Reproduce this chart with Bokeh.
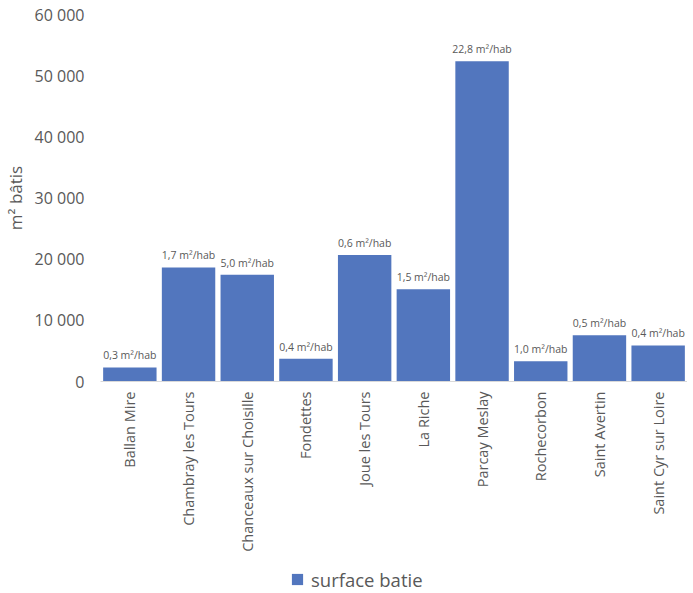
from bokeh.plotting import figure
from bokeh.models import ColumnDataSource, FixedTicker, Legend, LegendItem
from bokeh.layouts import column
from bokeh.embed import file_html
from bokeh.resources import INLINE
from bokeh.core.properties import value
import math

communes = ["Ballan Mire", "Chambray les Tours", "Chanceaux sur Choisille", "Fondettes",
            "Joue les Tours", "La Riche", "Parcay Meslay", "Rochecorbon",
            "Saint Avertin", "Saint Cyr sur Loire"]
surface = [2300, 18650, 17450, 3700, 20700, 15100, 52350, 3300, 7550, 5900]
ratio_labels = ["0,3 m²/hab", "1,7 m²/hab", "5,0 m²/hab", "0,4 m²/hab", "0,6 m²/hab",
                "1,5 m²/hab", "22,8 m²/hab", "1,0 m²/hab", "0,5 m²/hab", "0,4 m²/hab"]
y_ticks = [0, 10000, 20000, 30000, 40000, 50000, 60000]
y_tick_labels = ["0", "10 000", "20 000", "30 000", "40 000", "50 000", "60 000"]
series_name = "surface batie"

FONT = "Open Sans"
GREY = "#595959"
BLUE = "#5276BE"

src = ColumnDataSource(dict(x=communes, y=surface, lab=ratio_labels))

p = figure(x_range=communes, y_range=(0, 60000), frame_width=587, frame_height=367,
           output_backend="svg", toolbar_location=None,
           min_border_left=90, min_border_right=0, min_border_top=14, min_border_bottom=170)
p.outline_line_color = None
p.xgrid.grid_line_color = None
p.ygrid.grid_line_color = None
p.x_range.range_padding = 0

r = p.vbar(x="x", top="y", width=0.91, source=src, fill_color=BLUE, line_color=None)
p.text(x="x", y="y", text="lab", source=src, text_align="center", text_baseline="bottom",
       y_offset=-5, text_font=value(FONT), text_font_size="10.5px", text_color=GREY)

p.yaxis.ticker = FixedTicker(ticks=y_ticks)
p.yaxis.major_label_overrides = {t: l for t, l in zip(y_ticks, y_tick_labels)}
p.yaxis.axis_line_color = None
p.yaxis.major_tick_line_color = None
p.yaxis.minor_tick_line_color = None
p.yaxis.major_tick_out = 0
p.yaxis.major_label_text_font = FONT
p.yaxis.major_label_text_font_size = "16px"
p.yaxis.major_label_text_color = GREY
p.yaxis.major_label_standoff = 16
p.yaxis.axis_label = "m² bâtis"
p.yaxis.axis_label_text_font = FONT
p.yaxis.axis_label_text_font_size = "17px"
p.yaxis.axis_label_text_font_style = "normal"
p.yaxis.axis_label_text_color = GREY
p.yaxis.axis_label_standoff = 5

p.xaxis.axis_line_color = "#d9d9d9"
p.xaxis.major_tick_line_color = None
p.xaxis.minor_tick_line_color = None
p.xaxis.major_tick_out = 0
p.xaxis.major_label_orientation = math.pi / 2
p.xaxis.major_label_text_font = FONT
p.xaxis.major_label_text_font_size = "14.5px"
p.xaxis.major_label_text_color = GREY
p.xaxis.major_label_standoff = 10

# legend strip below the chart: its points lie outside its range, only the swatch shows
p2 = figure(x_range=communes, y_range=(-1, 0), width=677, height=40,
            output_backend="svg", toolbar_location=None, min_border=0)
p2.outline_line_color = None
p2.axis.visible = False
p2.grid.grid_line_color = None
r2 = p2.scatter(x="x", y="y", source=src, marker="square", size=11,
                fill_color=BLUE, line_color=None)
legend = Legend(items=[LegendItem(label=series_name, renderers=[r2])],
                location=(183, 1), orientation="horizontal",
                label_text_font=FONT, label_text_font_size="18.5px", label_text_color=GREY,
                glyph_width=28, glyph_height=28, border_line_color=None,
                background_fill_alpha=0, margin=0, padding=2, label_standoff=0)
p2.add_layout(legend, "center")

layout = column(p, p2, spacing=0)
open("out.html", "w").write(file_html(layout, INLINE))
